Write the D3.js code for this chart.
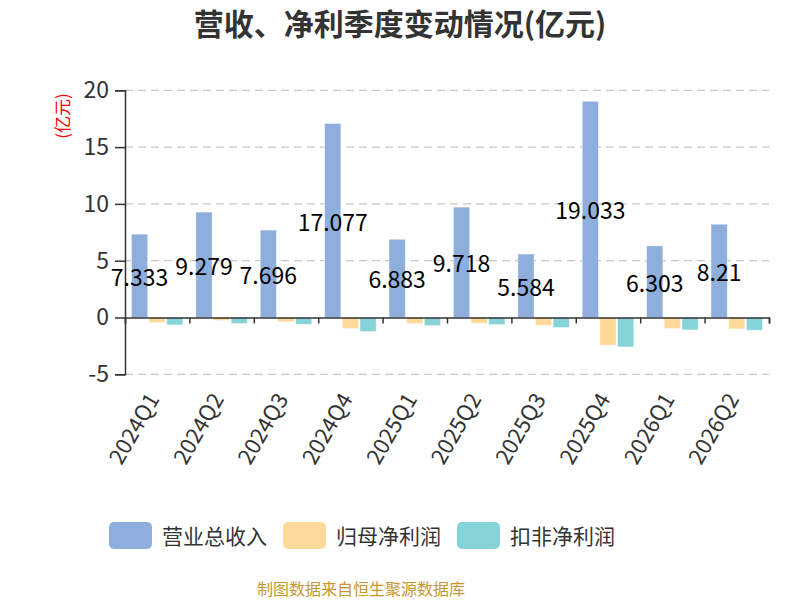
<!DOCTYPE html>
<html>
<head>
<meta charset="utf-8">
<script src="https://cdn.jsdelivr.net/npm/d3@7"></script>
<style>
  body { margin: 0; background: #fff; }
  text { font-family: "Noto Sans CJK SC", "Noto Sans", sans-serif; }
</style>
</head>
<body>
<script>
// Chart data
let categories = ["2024Q1", "2024Q2", "2024Q3", "2024Q4", "2025Q1",
  "2025Q2", "2025Q3", "2025Q4", "2026Q1", "2026Q2"];
let seriesNames = ["营业总收入", "归母净利润", "扣非净利润"];
let revenue = [7.333, 9.279, 7.696, 17.077, 6.883, 9.718, 5.584, 19.033, 6.303, 8.21];
let netProfit = [-0.44, -0.26, -0.38, -0.97, -0.53, -0.5, -0.68, -2.44, -0.97, -1.0];
let deductedProfit = [-0.65, -0.53, -0.59, -1.24, -0.71, -0.62, -0.88, -2.59, -1.09, -1.12];
let yTicks = [-5, 0, 5, 10, 15, 20];

let colors = ["#8eaedb", "#fed99a", "#87d4d8"];
let series = [revenue, netProfit, deductedProfit];

let width = 800, height = 600;
let svg = d3.select("body").append("svg")
  .attr("width", width)
  .attr("height", height);

// Scales
let y = d3.scaleLinear().domain([-5, 20]).range([374.3, 90.3]);
let x0 = d3.scaleBand().domain(categories).range([125, 769])
  .paddingInner(0.2).paddingOuter(0.1);
let x1 = d3.scaleBand().domain(d3.range(3)).range([0, x0.bandwidth()])
  .paddingInner(0.08);
let xEdge = d3.scaleLinear().domain([0, categories.length]).range([125, 769]);

// Title
svg.append("text")
  .attr("x", 400).attr("y", 35)
  .attr("text-anchor", "middle")
  .attr("font-size", 30).attr("font-weight", "bold")
  .attr("fill", "#333")
  .text("营收、净利季度变动情况(亿元)");

// Grid lines
svg.append("g").selectAll("line")
  .data(yTicks.filter(d => d !== 0)).enter().append("line")
    .attr("x1", 125).attr("x2", 769)
    .attr("y1", d => y(d)).attr("y2", d => y(d))
    .attr("stroke", "#c8c8c8").attr("stroke-width", 1.3)
    .attr("stroke-dasharray", "8,5");

// Y axis (plain hyphen for negatives, like the original)
let yAxis = svg.append("g")
  .attr("transform", "translate(125,0)")
  .call(d3.axisLeft(y).tickValues(yTicks).tickSize(10).tickPadding(6)
    .tickFormat(d => String(d)));
yAxis.select(".domain").attr("stroke", "#333").attr("stroke-width", 1.5);
yAxis.selectAll(".tick line").attr("stroke", "#333").attr("stroke-width", 1.5);
yAxis.selectAll(".tick text")
  .attr("font-size", 23).attr("fill", "#333")
  .attr("font-family", "\"Noto Sans CJK SC\", sans-serif");

// Y unit label
svg.append("text")
  .attr("transform", "translate(69,116) rotate(-90)")
  .attr("text-anchor", "middle")
  .attr("font-size", 17).attr("fill", "#ff0000")
  .text("(亿元)");

// Bars
let groups = svg.append("g").selectAll("g")
  .data(categories).enter().append("g")
    .attr("transform", d => "translate(" + x0(d) + ",0)");

groups.selectAll("rect")
  .data((d, i) => series.map((s, k) => ({ k: k, v: s[i] })))
  .enter().append("rect")
    .attr("x", d => x1(d.k))
    .attr("width", x1.bandwidth())
    .attr("y", d => y(Math.max(0, d.v)))
    .attr("height", d => Math.abs(y(d.v) - y(0)))
    .attr("fill", d => colors[d.k])
    .attr("stroke", "#ffffff").attr("stroke-opacity", 0.5)
    .attr("stroke-width", 0.8);

// X axis at zero
let xAxis = svg.append("g")
  .attr("transform", "translate(0," + y(0) + ")")
  .call(d3.axisBottom(xEdge).tickValues(d3.range(categories.length + 1))
    .tickSize(6).tickFormat(""));
xAxis.select(".domain").attr("stroke", "#333").attr("stroke-width", 1.5);
xAxis.selectAll(".tick line").attr("stroke", "#333").attr("stroke-width", 1.5);

// Category labels
svg.append("g").selectAll("text")
  .data(categories).enter().append("text")
    .attr("transform", d => "translate(" + (x0(d) + x0.bandwidth() / 2 + 3) +
      ",399) rotate(-60)")
    .attr("text-anchor", "end")
    .attr("font-size", 22).attr("fill", "#333")
    .text(d => d);

// Value labels for revenue
svg.append("g").selectAll("text")
  .data(revenue).enter().append("text")
    .attr("x", (d, i) => x0(categories[i]) + x1(0) + x1.bandwidth() / 2)
    .attr("y", d => (y(d) + y(0)) / 2)
    .attr("text-anchor", "middle")
    .attr("dominant-baseline", "central")
    .attr("font-size", 23).attr("fill", "#000")
    .text(d => d);

// Legend
let legendX = [109, 283, 457];
let legend = svg.append("g").selectAll("g")
  .data(seriesNames).enter().append("g")
    .attr("transform", (d, i) => "translate(" + legendX[i] + ",522)");
legend.append("rect")
  .attr("width", 43).attr("height", 27).attr("rx", 5)
  .attr("fill", (d, i) => colors[i]);
legend.append("text")
  .attr("x", 53).attr("y", 13)
  .attr("dominant-baseline", "central")
  .attr("font-size", 21).attr("fill", "#333")
  .text(d => d);

// Source note
svg.append("text")
  .attr("x", 361).attr("y", 595)
  .attr("text-anchor", "middle")
  .attr("font-size", 16).attr("fill", "#c8962e")
  .text("制图数据来自恒生聚源数据库");
</script>
</body>
</html>
